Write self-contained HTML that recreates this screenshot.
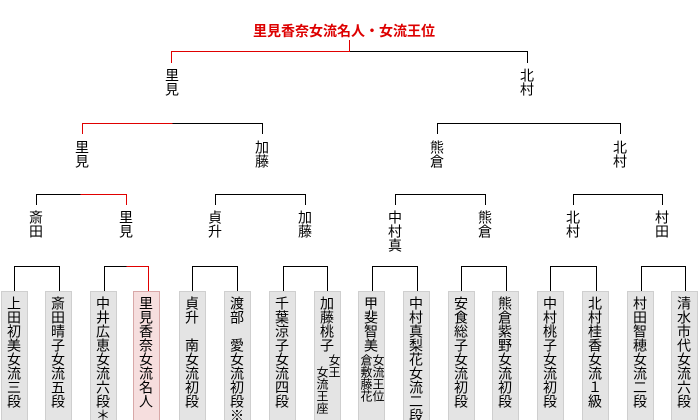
<!DOCTYPE html>
<html><head><meta charset="utf-8"><style>
body{margin:0;background:#fff;}
#c{position:relative;width:700px;height:420px;overflow:hidden;background:#fff;font-family:"Liberation Sans","Noto Sans CJK JP",sans-serif;}
.t{position:absolute;color:#d00;font-weight:bold;font-size:14px;top:22px;left:253px;white-space:nowrap;line-height:18px;}
.v{position:absolute;writing-mode:vertical-rl;font-size:14px;line-height:16px;width:16px;color:#000;}
.b{position:absolute;top:291px;width:25px;height:132px;background:#e4e4e4;border:1px solid #cfcfcf;box-sizing:content-box;}
.b.r{background:#f6dede;border-color:#d8a8a8;}
.b .n{writing-mode:vertical-rl;font-size:14px;line-height:16px;position:absolute;left:4px;top:4px;white-space:nowrap;}
.b .s{writing-mode:vertical-rl;font-size:12px;line-height:12px;position:absolute;white-space:nowrap;}
</style></head><body><div id="c">
<div class="t">里見香奈女流名人・女流王位</div>
<svg width="700" height="420" style="position:absolute;left:0;top:0" shape-rendering="crispEdges">
<g stroke="#000" stroke-width="1" fill="none">
<path d="M350 51.5H527.5V63"/>
<path d="M172.5 123.5H262.5V134"/>
<path d="M437.5 134V123.5H620.5V134"/>
<path d="M36.5 205V194.5H80.5"/>
<path d="M215.5 205V194.5H305.5V205"/>
<path d="M395.5 205V194.5H485.5V205"/>
<path d="M573.5 205V194.5H662.5V205"/>
<path d="M14.5 291V266.5H59.5V291"/>
<path d="M104.5 291V266.5H126.5"/>
<path d="M192.5 291V266.5H237.5V291"/>
<path d="M283.5 291V266.5H327.5V291"/>
<path d="M372.5 291V266.5H417.5V291"/>
<path d="M461.5 291V266.5H506.5V291"/>
<path d="M550.5 291V266.5H596.5V291"/>
<path d="M641.5 291V266.5H685.5V291"/>
</g>
<g stroke="#e00000" stroke-width="1" fill="none">
<path d="M349.5 40V52"/>
<path d="M171 51.5H350"/>
<path d="M171.5 51V63"/>
<path d="M172.5 123.5H82.5V134"/>
<path d="M80.5 194.5H126.5V205"/>
<path d="M126.5 266.5H148.5V291"/>
</g>
</svg>
<div class="v" style="left:164px;top:68px">里見</div>
<div class="v" style="left:519px;top:68px">北村</div>
<div class="v" style="left:74px;top:140px">里見</div>
<div class="v" style="left:254px;top:140px">加藤</div>
<div class="v" style="left:429px;top:140px">熊倉</div>
<div class="v" style="left:612px;top:140px">北村</div>
<div class="v" style="left:28px;top:210px">斎田</div>
<div class="v" style="left:118px;top:210px">里見</div>
<div class="v" style="left:207px;top:210px">貞升</div>
<div class="v" style="left:297px;top:210px">加藤</div>
<div class="v" style="left:387px;top:210px">中村真</div>
<div class="v" style="left:477px;top:210px">熊倉</div>
<div class="v" style="left:565px;top:210px">北村</div>
<div class="v" style="left:654px;top:210px">村田</div>

<div class="b" style="left:1px"><div class="n">上田初美女流三段</div></div>
<div class="b" style="left:45px"><div class="n">斎田晴子女流五段</div></div>
<div class="b" style="left:90px"><div class="n">中井広恵女流六段＊</div></div>
<div class="b r" style="left:133px"><div class="n">里見香奈女流名人</div></div>
<div class="b" style="left:179px"><div class="n">貞升　南女流初段</div></div>
<div class="b" style="left:224px"><div class="n">渡部　愛女流初段※</div></div>
<div class="b" style="left:269px"><div class="n">千葉涼子女流四段</div></div>
<div class="b" style="left:314px"><div class="n">加藤桃子</div><div class="s" style="left:13px;top:62px">女王</div><div class="s" style="left:1px;top:74px">女流王座</div></div>
<div class="b" style="left:358px"><div class="n">甲斐智美</div><div class="s" style="left:13px;top:62px">女流王位</div><div class="s" style="left:1px;top:62px">倉敷藤花</div></div>
<div class="b" style="left:403px"><div class="n">中村真梨花女流二段</div></div>
<div class="b" style="left:448px"><div class="n">安食総子女流初段</div></div>
<div class="b" style="left:492px"><div class="n">熊倉紫野女流初段</div></div>
<div class="b" style="left:537px"><div class="n">中村桃子女流初段</div></div>
<div class="b" style="left:582px"><div class="n">北村桂香女流１級</div></div>
<div class="b" style="left:627px"><div class="n">村田智穂女流二段</div></div>
<div class="b" style="left:671px"><div class="n">清水市代女流六段</div></div>
</div></body></html>
